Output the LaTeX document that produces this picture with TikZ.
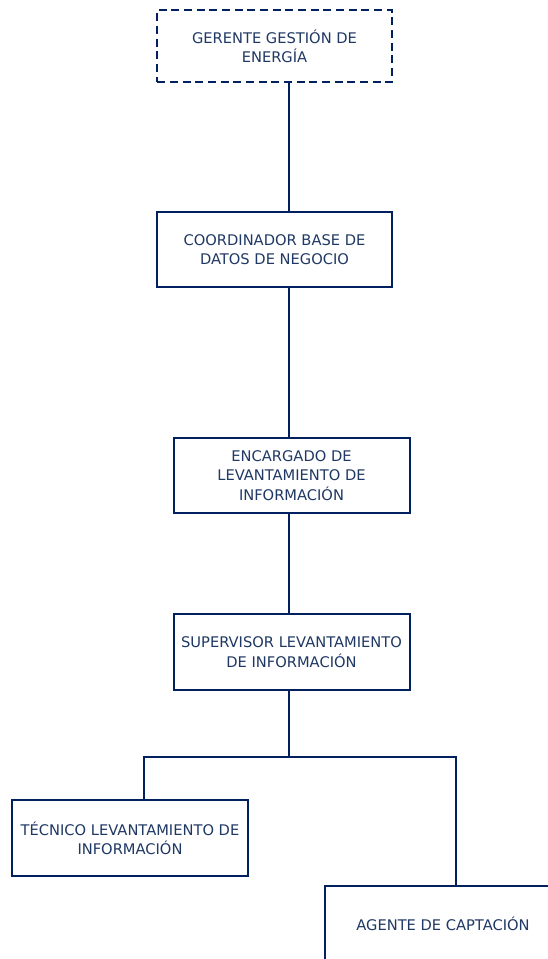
\documentclass[tikz,border=0pt]{standalone}
\usepackage{fontspec}
\setmainfont{DejaVu Sans}
\usepackage{xcolor}
\usepackage{tikz}
\usetikzlibrary{positioning}

\definecolor{azulorg}{RGB}{0,32,96}
\definecolor{textorg}{RGB}{31,56,100}

\tikzset{
	cargo/.style={draw=azulorg, line width=1.5pt, fill=white, text=textorg, align=center,
		minimum width=#1, minimum height=56.5pt, inner sep=0.75pt,
		font=\fontsize{11}{14.5}\selectfont},
	cargo/.default=177pt,
	linea/.style={draw=azulorg, line width=1.5pt}
}

\begin{document}
\begin{tikzpicture}[x=0.75pt,y=0.75pt,yscale=-1,xscale=1]
		\useasboundingbox (0,0) rectangle (548,959);
		\clip (0,0) rectangle (548,959);
		
		%Coordinates for the connectors
		\coordinate (eje) at (289,0);
		\coordinate (ramaI) at (144,757);
		\coordinate (ramaD) at (456,757);
		
		% Text Node
		\node [cargo=176pt, dashed, dash pattern=on 6pt off 3.5pt, minimum height=54pt] (gerente) at (274.5,46) {GERENTE GESTIÓN DE\\ENERGÍA};
		% Text Node
		\node [cargo=176pt] (coordinador) at (274.5,249.5) {COORDINADOR BASE DE\\DATOS DE NEGOCIO};
		% Text Node
		\node [cargo] (encargado) at (291.5,475.5) {ENCARGADO DE\\LEVANTAMIENTO DE\\INFORMACIÓN};
		% Text Node
		\node [cargo] (supervisor) at (291.5,652) {SUPERVISOR LEVANTAMIENTO\\DE INFORMACIÓN};
		% Text Node
		\node [cargo] (tecnico) at (130,838) {TÉCNICO LEVANTAMIENTO DE\\INFORMACIÓN};
		% Text Node
		\node [cargo] (agente) at (443,924) {AGENTE DE CAPTACIÓN};
		
		%Straight Lines
		\draw [linea] (gerente.south -| eje) -- (coordinador.north -| eje) ;
		%Straight Lines
		\draw [linea] (coordinador.south -| eje) -- (encargado.north -| eje) ;
		%Straight Lines
		\draw [linea] (encargado.south -| eje) -- (supervisor.north -| eje) ;
		%Straight Lines
		\draw [linea] (supervisor.south -| eje) -- (eje |- ramaI) ;
		%Straight Lines
		\draw [linea] (tecnico.north -| ramaI) -- (ramaI) -- (ramaD) -- (agente.north -| ramaD) ;
		
\end{tikzpicture}
\end{document}
